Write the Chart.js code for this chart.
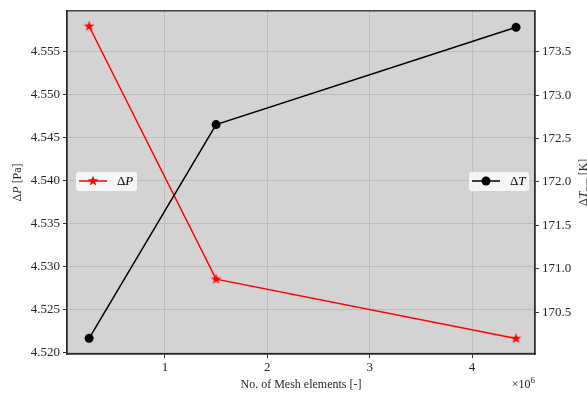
<!DOCTYPE html>
<html>
<head>
<meta charset="utf-8">
<script src="https://cdn.jsdelivr.net/npm/chart.js@4.4.1/dist/chart.umd.min.js"></script>
<style>
html,body{margin:0;padding:0;background:#fff;}
#wrap{width:587px;height:399px;position:relative;}
</style>
</head>
<body>
<div id="wrap"><canvas id="c" width="587" height="399"></canvas></div>
<script>
// ---- data ----
const meshElements = [260000, 1500000, 4430000];
const deltaP = [4.5579, 4.5285, 4.5216];
const deltaT = [170.20, 172.66, 173.78];
const xTickValues = [1e6, 2e6, 3e6, 4e6];
const pTickValues = [4.520, 4.525, 4.530, 4.535, 4.540, 4.545, 4.550, 4.555];
const tTickValues = [170.5, 171.0, 171.5, 172.0, 172.5, 173.0, 173.5];
const xTitle = "No. of Mesh elements [-]";
const pLabel = "\u0394P [Pa]";
const tLabel = "\u0394T_max [K]";

const SERIF = "'Liberation Serif','DejaVu Serif',serif";
const TICKCOL = '#262626';
const GRIDCOL = '#bcbcbc';

function starCanvas(r, color) {
  const s = Math.ceil(r * 2 + 2);
  const cv = document.createElement('canvas');
  cv.width = s; cv.height = s;
  const g = cv.getContext('2d');
  drawStar(g, s / 2, s / 2, r, color);
  return cv;
}
function drawStar(g, cx, cy, r, color) {
  g.beginPath();
  for (let i = 0; i < 10; i++) {
    const rr = i % 2 === 0 ? r : r * 0.42;
    const a = -Math.PI / 2 + i * Math.PI / 5;
    const px = cx + rr * Math.cos(a), py = cy + rr * Math.sin(a);
    if (i === 0) g.moveTo(px, py); else g.lineTo(px, py);
  }
  g.closePath();
  g.fillStyle = color; g.fill();
}
const redStar = starCanvas(5.5, '#ff0000');

const bgPlugin = {
  id: 'bg',
  beforeDraw(chart) {
    const {ctx, chartArea: a} = chart;
    ctx.save();
    ctx.fillStyle = '#d3d3d3';
    ctx.fillRect(a.left, a.top, a.right - a.left, a.bottom - a.top);
    ctx.restore();
  },
  afterDraw(chart) {
    const {ctx, chartArea: a} = chart;
    ctx.save();
    // frame
    ctx.strokeStyle = '#2a2a2a';
    ctx.lineWidth = 1.3;
    ctx.strokeRect(a.left, a.top, a.right - a.left, a.bottom - a.top);

    // legends
    function box(x, y, w, h) {
      ctx.beginPath();
      ctx.roundRect(x, y, w, h, 3);
      ctx.fillStyle = 'rgba(255,255,255,0.8)';
      ctx.fill();
      ctx.strokeStyle = 'rgba(204,204,204,0.8)';
      ctx.lineWidth = 1;
      ctx.stroke();
    }
    const midY = 181;
    box(75.5, 171.5, 62, 20);
    ctx.strokeStyle = '#ff0000'; ctx.lineWidth = 1.5;
    ctx.beginPath(); ctx.moveTo(79, midY); ctx.lineTo(107, midY); ctx.stroke();
    drawStar(ctx, 93, midY, 5.5, '#ff0000');
    ctx.fillStyle = '#000'; ctx.textBaseline = 'middle'; ctx.textAlign = 'left';
    ctx.font = '13px ' + SERIF;
    ctx.fillText('\u0394', 117, midY + 1);
    let w = ctx.measureText('\u0394').width;
    ctx.font = 'italic 13px ' + SERIF;
    ctx.fillText('P', 117 + w, midY + 1);

    box(468.5, 171.5, 61, 20);
    ctx.strokeStyle = '#000'; ctx.lineWidth = 1.5;
    ctx.beginPath(); ctx.moveTo(472, midY); ctx.lineTo(500, midY); ctx.stroke();
    ctx.beginPath(); ctx.arc(486, midY, 4.5, 0, Math.PI * 2); ctx.fillStyle = '#000'; ctx.fill();
    ctx.font = '13px ' + SERIF;
    ctx.fillText('\u0394', 510, midY + 1);
    w = ctx.measureText('\u0394').width;
    ctx.font = 'italic 13px ' + SERIF;
    ctx.fillText('T', 510 + w, midY + 1);

    // axis titles
    ctx.fillStyle = TICKCOL;
    ctx.font = '12px ' + SERIF;
    ctx.textAlign = 'center';
    ctx.fillText(xTitle, (a.left + a.right) / 2, 385);
    // x multiplier
    ctx.textAlign = 'right';
    ctx.font = '9px ' + SERIF;
    ctx.fillText('6', a.right, 381);
    const sw = ctx.measureText('6').width;
    ctx.font = '12px ' + SERIF;
    ctx.fillText('\u00d710', a.right - sw, 385);

    // left y title
    const cy = (a.top + a.bottom) / 2;
    ctx.save();
    ctx.translate(18, cy);
    ctx.rotate(-Math.PI / 2);
    ctx.textAlign = 'left';
    ctx.font = '12px ' + SERIF;
    const p1 = '\u0394', p2 = 'P', p3 = ' [Pa]';
    const wa = ctx.measureText(p1).width;
    ctx.font = 'italic 12px ' + SERIF;
    const wb = ctx.measureText(p2).width;
    ctx.font = '12px ' + SERIF;
    const wc = ctx.measureText(p3).width;
    let x0 = -(wa + wb + wc) / 2;
    ctx.fillText(p1, x0, 0);
    ctx.font = 'italic 12px ' + SERIF; ctx.fillText(p2, x0 + wa, 0);
    ctx.font = '12px ' + SERIF; ctx.fillText(p3, x0 + wa + wb, 0);
    ctx.restore();

    // right y title (partially outside canvas)
    ctx.save();
    ctx.translate(584, cy);
    ctx.rotate(-Math.PI / 2);
    ctx.textAlign = 'left';
    ctx.font = '12px ' + SERIF;
    const q1 = '\u0394';
    const qa = ctx.measureText(q1).width;
    ctx.font = 'italic 12px ' + SERIF;
    const qb = ctx.measureText('T').width;
    ctx.font = 'italic 8px ' + SERIF;
    const qc = ctx.measureText('max').width;
    ctx.font = '12px ' + SERIF;
    const qd = ctx.measureText(' [K]').width;
    let y0 = -(qa + qb + qc + qd) / 2;
    ctx.font = '12px ' + SERIF; ctx.fillText(q1, y0, 0);
    ctx.font = 'italic 12px ' + SERIF; ctx.fillText('T', y0 + qa, 0);
    ctx.font = 'italic 8px ' + SERIF; ctx.fillText('max', y0 + qa + qb, 4);
    ctx.font = '12px ' + SERIF; ctx.fillText(' [K]', y0 + qa + qb + qc, 0);
    ctx.restore();

    ctx.restore();
  }
};

const pData = meshElements.map((x, i) => ({x: x, y: deltaP[i]}));
const tData = meshElements.map((x, i) => ({x: x, y: deltaT[i]}));

new Chart(document.getElementById('c'), {
  type: 'line',
  data: {
    datasets: [
      {
        label: '\u0394P', data: pData, yAxisID: 'yP', order: 1,
        borderColor: '#ff0000', backgroundColor: '#ff0000', borderWidth: 1.5,
        pointStyle: redStar, pointRadius: 5, tension: 0
      },
      {
        label: '\u0394T', data: tData, yAxisID: 'yT', order: 0,
        borderColor: '#000000', backgroundColor: '#000000', borderWidth: 1.5,
        pointStyle: 'circle', pointRadius: 4.5, pointBorderWidth: 0, tension: 0
      }
    ]
  },
  options: {
    responsive: false,
    animation: false,
    events: [],
    layout: {padding: {top: 7, left: 0, right: 0, bottom: 0}},
    plugins: {legend: {display: false}, tooltip: {enabled: false}},
    scales: {
      x: {
        type: 'linear', position: 'bottom',
        min: 44000, max: 4615000,
        afterBuildTicks: s => { s.ticks = xTickValues.map(v => ({value: v})); },
        afterFit: s => { s.height = 45; },
        ticks: {
          color: TICKCOL, font: {family: SERIF, size: 13}, padding: 2,
          maxRotation: 0, autoSkip: false,
          callback: v => String(v / 1e6)
        },
        grid: {color: GRIDCOL, lineWidth: 1, tickLength: 4, tickColor: '#333'},
        border: {display: true, color: '#2a2a2a', width: 1.3}
      },
      yP: {
        type: 'linear', position: 'left',
        min: 4.5198, max: 4.5597,
        afterBuildTicks: s => { s.ticks = pTickValues.map(v => ({value: v})); },
        afterFit: s => { s.width = 67; },
        ticks: {
          color: TICKCOL, font: {family: SERIF, size: 13}, padding: 3,
          autoSkip: false, callback: v => v.toFixed(3)
        },
        grid: {color: GRIDCOL, lineWidth: 1, tickLength: 4, tickColor: '#333'},
        border: {display: true, color: '#2a2a2a', width: 1.3}
      },
      yT: {
        type: 'linear', position: 'right',
        min: 170.02, max: 173.97,
        afterBuildTicks: s => { s.ticks = tTickValues.map(v => ({value: v})); },
        afterFit: s => { s.width = 52; },
        ticks: {
          color: TICKCOL, font: {family: SERIF, size: 13}, padding: 3,
          autoSkip: false, callback: v => v.toFixed(1)
        },
        grid: {drawOnChartArea: false, tickLength: 4, tickColor: '#333'},
        border: {display: true, color: '#2a2a2a', width: 1.3}
      }
    }
  },
  plugins: [bgPlugin]
});
</script>
</body>
</html>
